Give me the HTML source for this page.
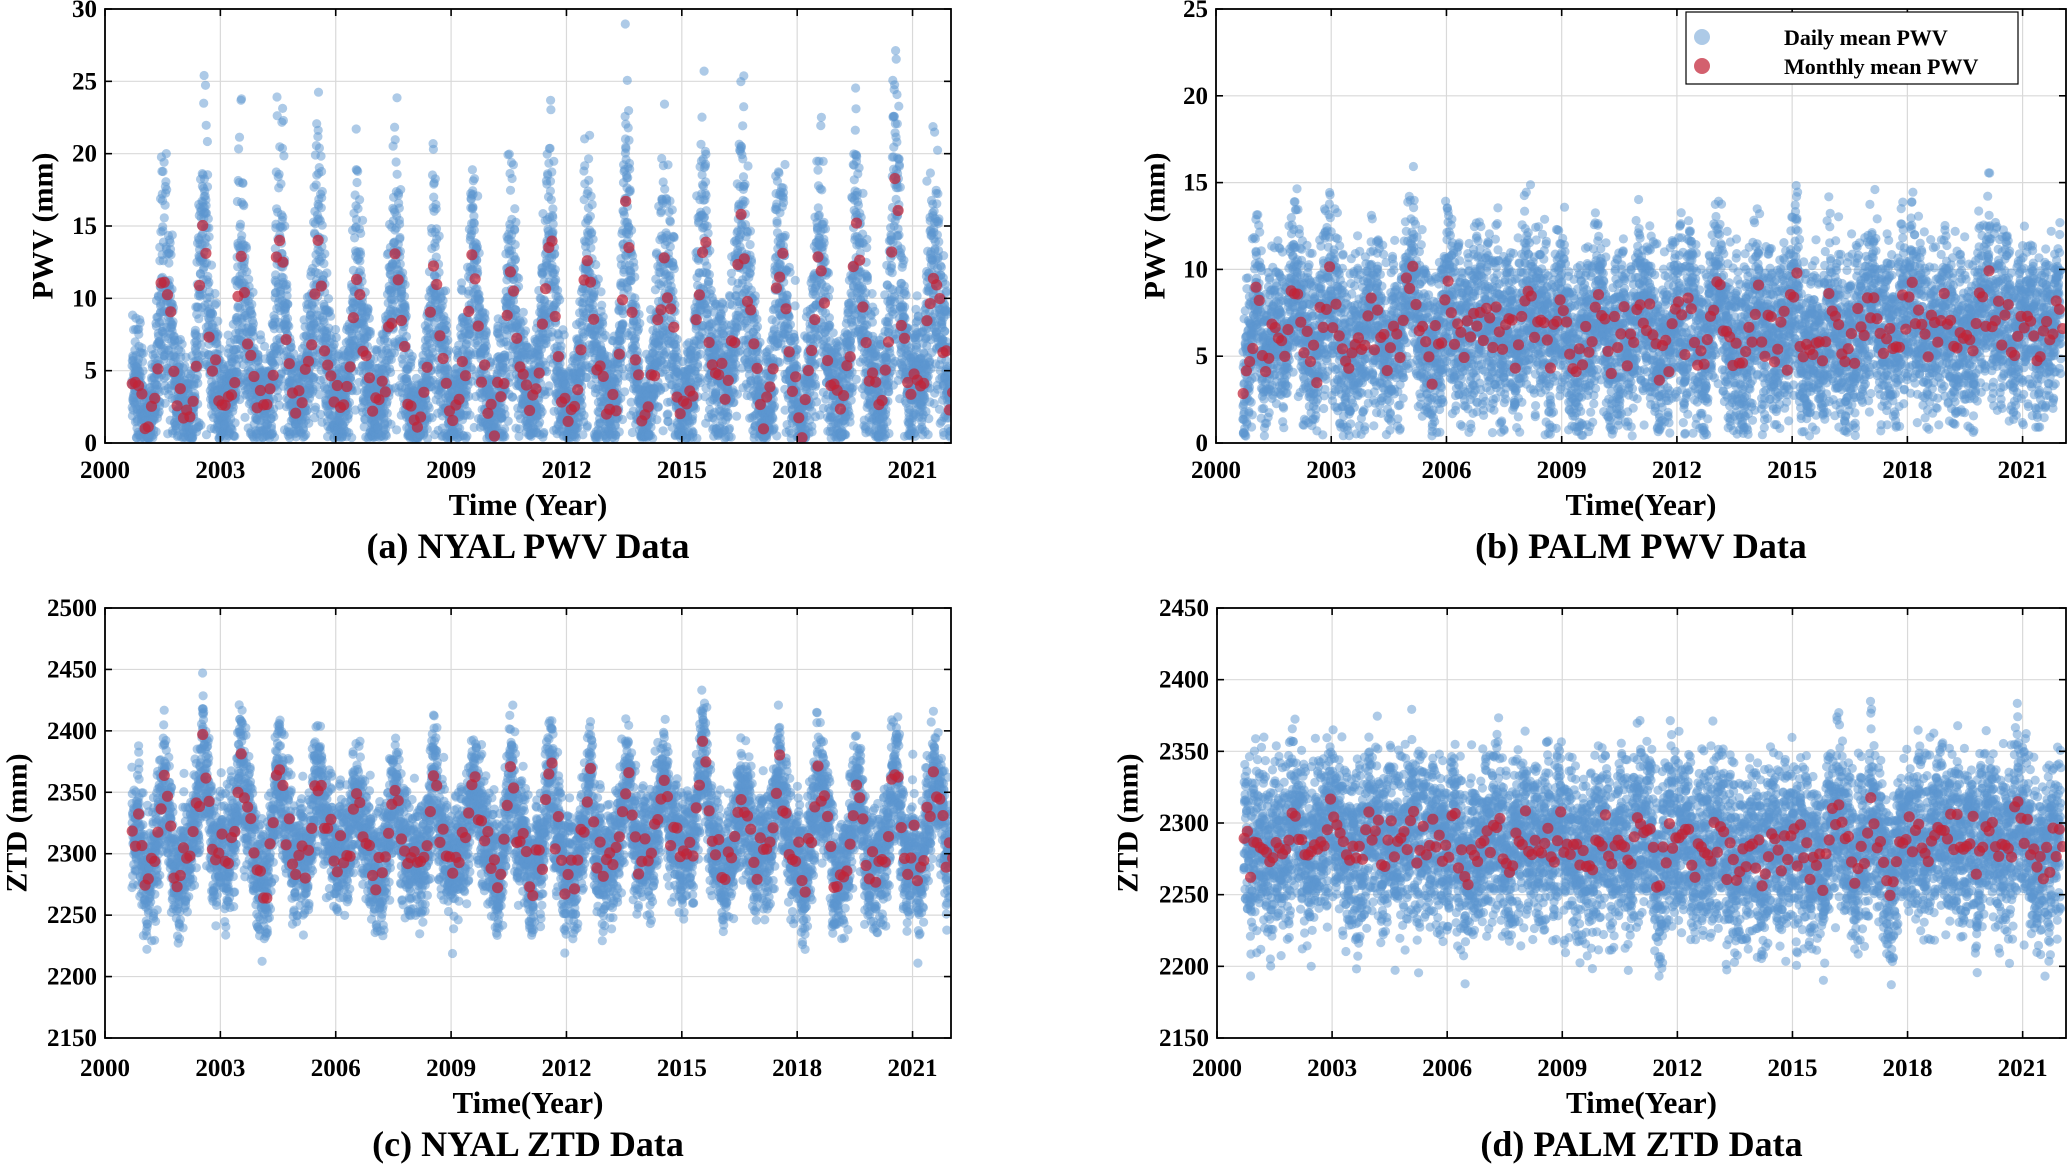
<!DOCTYPE html>
<html><head><meta charset="utf-8">
<style>
html,body{margin:0;padding:0;background:#fff;}
#root{position:relative;width:2067px;height:1168px;overflow:hidden;font-family:"Liberation Serif",serif;font-weight:bold;}
svg{position:absolute;left:0;top:0;}
</style></head>
<body>
<div id="root">
<svg id="fig" width="2067" height="1168" xmlns="http://www.w3.org/2000/svg"></svg>
</div>
<script>
// ---- data (per year 2000..2022) ----
const years = [2000,2001,2002,2003,2004,2005,2006,2007,2008,2009,2010,2011,2012,2013,2014,2015,2016,2017,2018,2019,2020,2021,2022];
const nyalPwvPeak   = [5.8,12.5,14.3,13.1,15.3,13.4,12.9,12.1,11.6,12.1,12.0,13.6,13.0,14.9,13.5,14.0,15.8,12.9,13.8,15.0,17.7,13.0,6.0];
const nyalPwvTrough = [3.0,2.2,2.2,1.5,1.8,2.8,1.8,2.8,1.8,2.5,2.4,2.6,2.9,1.9,3.1,2.6,3.6,2.5,2.1,2.8,2.3,3.8,3.1];
const palmPwvPeak   = [6.5,8.0,8.3,8.0,7.8,8.2,8.4,7.9,8.3,7.8,8.0,8.2,7.8,8.0,7.6,8.2,7.8,8.0,7.9,8.1,8.4,7.8,8.0];
const palmPwvTrough = [3.0,5.2,5.0,5.4,5.2,5.0,5.3,5.4,5.0,5.2,5.4,5.3,5.1,5.5,5.2,5.0,5.4,5.4,5.3,5.1,5.5,5.6,5.4];
const nyalZtdPeak   = [2340,2365,2375,2370,2370,2365,2360,2355,2358,2350,2360,2365,2358,2360,2355,2378,2365,2360,2365,2368,2390,2355,2330];
const nyalZtdTrough = [2300,2280,2290,2290,2285,2295,2290,2285,2290,2295,2292,2280,2290,2292,2292,2292,2290,2288,2292,2285,2270,2298,2300];
const palmZtdPeak   = [2285,2295,2300,2298,2295,2302,2298,2295,2290,2295,2298,2300,2295,2290,2288,2295,2310,2302,2295,2302,2310,2298,2288];
const palmZtdTrough = [2278,2278,2275,2278,2280,2282,2278,2280,2275,2278,2280,2272,2272,2268,2270,2265,2275,2265,2275,2280,2282,2275,2272];
const seasonArctic    = [0.05,0.0,0.05,0.15,0.35,0.7,1.0,0.85,0.5,0.3,0.15,0.08];
const seasonAntarctic = [1.0,0.9,0.6,0.4,0.3,0.2,0.1,0.05,0.1,0.3,0.55,0.85];
const xTickLabels = ["2000","2003","2006","2009","2012","2015","2018","2021"];
const pwvTicksA = [0,5,10,15,20,25,30];
const pwvTicksB = [0,5,10,15,20,25];
const ztdTicksC = [2150,2200,2250,2300,2350,2400,2450,2500];
const ztdTicksD = [2150,2200,2250,2300,2350,2400,2450];

const NS='http://www.w3.org/2000/svg';
const fig=document.getElementById('fig');
function mk(tag,attrs,parent){const e=document.createElementNS(NS,tag);for(const k in attrs)e.setAttribute(k,attrs[k]);(parent||fig).appendChild(e);return e;}
function hash(n){const s=Math.sin(n*12.9898+78.233)*43758.5453;return s-Math.floor(s);}

const panels=[
 {key:'a',L:105,R:951,T:9,B:443,x1:2022,ymin:0,ymax:30,ticks:pwvTicksA,peak:nyalPwvPeak,trough:nyalPwvTrough,season:seasonArctic,start:2000.7,sd:m=>0.3*m+1.0,mj:1.2,floor:0.3,ytitle:'PWV (mm)',ytx:43,xtitle:'Time (Year)',cap:'(a) NYAL PWV Data',capy:558,xty:515,tly:478},
 {key:'b',L:1216,R:2066,T:9,B:443,x1:2022.13,ymin:0,ymax:25,ticks:pwvTicksB,peak:palmPwvPeak,trough:palmPwvTrough,season:seasonAntarctic,start:2000.7,sd:m=>2.4,mj:1.3,floor:0.4,ytitle:'PWV (mm)',ytx:1155,xtitle:'Time(Year)',cap:'(b) PALM PWV Data',capy:558,xty:515,tly:478},
 {key:'c',L:105,R:951,T:608,B:1038,x1:2022,ymin:2150,ymax:2500,ticks:ztdTicksC,peak:nyalZtdPeak,trough:nyalZtdTrough,season:seasonArctic,start:2000.7,sd:m=>24,mj:14,floor:2150,ytitle:'ZTD (mm)',ytx:17,xtitle:'Time(Year)',cap:'(c) NYAL ZTD Data',capy:1156,xty:1113,tly:1076},
 {key:'d',L:1217,R:2066,T:608,B:1038,x1:2022.13,ymin:2150,ymax:2450,ticks:ztdTicksD,peak:palmZtdPeak,trough:palmZtdTrough,season:seasonAntarctic,start:2000.7,sd:m=>29,mj:13,floor:2150,ytitle:'ZTD (mm)',ytx:1128,xtitle:'Time(Year)',cap:'(d) PALM ZTD Data',capy:1156,xty:1113,tly:1076}
];

panels.forEach((p,pi)=>{
 const g=mk('g',{});
 
 
 const xs=t=>p.L+(t-2000)/(p.x1-2000)*(p.R-p.L);
 const ys=v=>p.B-(v-p.ymin)/(p.ymax-p.ymin)*(p.B-p.T);
 const cid='clip'+p.key;
 const cp=mk('clipPath',{id:cid},g);mk('rect',{x:p.L,y:p.T,width:p.R-p.L,height:p.B-p.T},cp);
 const grid=mk('g',{stroke:'#d9d9d9','stroke-width':1.2},g);
 
 
 xTickLabels.forEach(l=>{const x=xs(+l);mk('line',{x1:x,x2:x,y1:p.T,y2:p.B},grid);});
 p.ticks.forEach(v=>{const y=ys(v);mk('line',{x1:p.L,x2:p.R,y1:y,y2:y},grid);});
 // monthly means (seasonal envelope + month-to-month scatter)
 const monthly=[];
 for(let yi=0;yi<years.length;yi++){for(let m=0;m<12;m++){
   const t=years[yi]+(m+0.5)/12; if(t<p.start||t>2022.05)continue;
   const k=yi*12+m+pi*5000;
   const base=p.trough[yi]+p.season[m]*(p.peak[yi]-p.trough[yi]);
   const v=base+(hash(k+0.5)+hash(k+0.25)-1)*2*p.mj;
   monthly.push([t,v]);}}
 const mv=t=>{if(t<=monthly[0][0])return monthly[0][1];for(let i=1;i<monthly.length;i++){if(t<=monthly[i][0]){const a=monthly[i-1],b=monthly[i];return a[1]+(b[1]-a[1])*(t-a[0])/(b[0]-a[0]);}}return monthly[monthly.length-1][1];};
 const dg=mk('g',{fill:'#5b96cf','fill-opacity':0.5,'clip-path':'url(#'+cid+')'},g);
 
 
 const nd=Math.floor((2022-p.start)*365);
 for(let d=0;d<nd;d++){
   const t=p.start+d/365;const m=mv(t);
   const k=d*3+pi*100000;
   const z=(hash(k)+hash(k+1)+hash(k+2)-1.5)*2;
   let v=m+p.sd(m)*z; if(v<p.floor)v=p.floor+hash(k+7)*p.sd(m)*0.3;
   mk('circle',{cx:xs(t).toFixed(1),cy:ys(v).toFixed(1),r:4.6},dg);
 }
 const mg=mk('g',{fill:'#c22236','fill-opacity':0.72,'clip-path':'url(#'+cid+')'},g);
 
 
 monthly.forEach(([t,v])=>{mk('circle',{cx:xs(t).toFixed(1),cy:ys(v).toFixed(1),r:5.6},mg);});
 const fr=mk('rect',{x:p.L,y:p.T,width:p.R-p.L,height:p.B-p.T,fill:'none',stroke:'#000','stroke-width':1.8},g);
 
 
 const tk=mk('g',{stroke:'#000','stroke-width':1.6},g);
 xTickLabels.forEach(l=>{const x=xs(+l);mk('line',{x1:x,x2:x,y1:p.B,y2:p.B-7},tk);mk('line',{x1:x,x2:x,y1:p.T,y2:p.T+7},tk);
   const tx=mk('text',{x:x,y:p.tly,'text-anchor':'middle','font-size':25,'font-weight':'bold','font-family':'Liberation Serif, serif'},g);
   tx.textContent=l;
   
   });
 p.ticks.forEach(v=>{const y=ys(v);mk('line',{x1:p.L,x2:p.L+7,y1:y,y2:y},tk);mk('line',{x1:p.R,x2:p.R-7,y1:y,y2:y},tk);
   const tx=mk('text',{x:p.L-8,y:y+8,'text-anchor':'end','font-size':25,'font-weight':'bold','font-family':'Liberation Serif, serif'},g);
   tx.textContent=v;
   
   });
 const xt=mk('text',{x:(p.L+Math.min(p.R,2066))/2,y:p.xty,'text-anchor':'middle','font-size':31,'font-weight':'bold','font-family':'Liberation Serif, serif'},g);
 xt.textContent=p.xtitle;
 
 
 const cy=(p.T+p.B)/2;
 const yt=mk('text',{x:p.ytx,y:cy,'text-anchor':'middle','dominant-baseline':'central','font-size':30,'font-weight':'bold','font-family':'Liberation Serif, serif',transform:'rotate(-90 '+p.ytx+' '+cy+')'},g);
 yt.textContent=p.ytitle;
 
 
 const cap=mk('text',{x:(p.L+p.R)/2,y:p.capy,'text-anchor':'middle','font-size':36,'font-weight':'bold','font-family':'Liberation Serif, serif'},g);
 cap.textContent=p.cap;
 
 
});
const lg=mk('g',{});


mk('rect',{x:1686,y:12,width:332,height:72,fill:'#fff',stroke:'#000','stroke-width':1.2},lg);
const e1=mk('circle',{cx:1702,cy:37,r:8,fill:'#5b96cf','fill-opacity':0.5},lg);


const e2=mk('circle',{cx:1702,cy:66,r:8,fill:'#c22236','fill-opacity':0.72},lg);


const t1=mk('text',{x:1784,y:45,'font-size':22,'font-weight':'bold','font-family':'Liberation Serif, serif'},lg);
t1.textContent='Daily mean PWV';


const t2=mk('text',{x:1784,y:74,'font-size':22,'font-weight':'bold','font-family':'Liberation Serif, serif'},lg);
t2.textContent='Monthly mean PWV';


</script>
</body></html>
